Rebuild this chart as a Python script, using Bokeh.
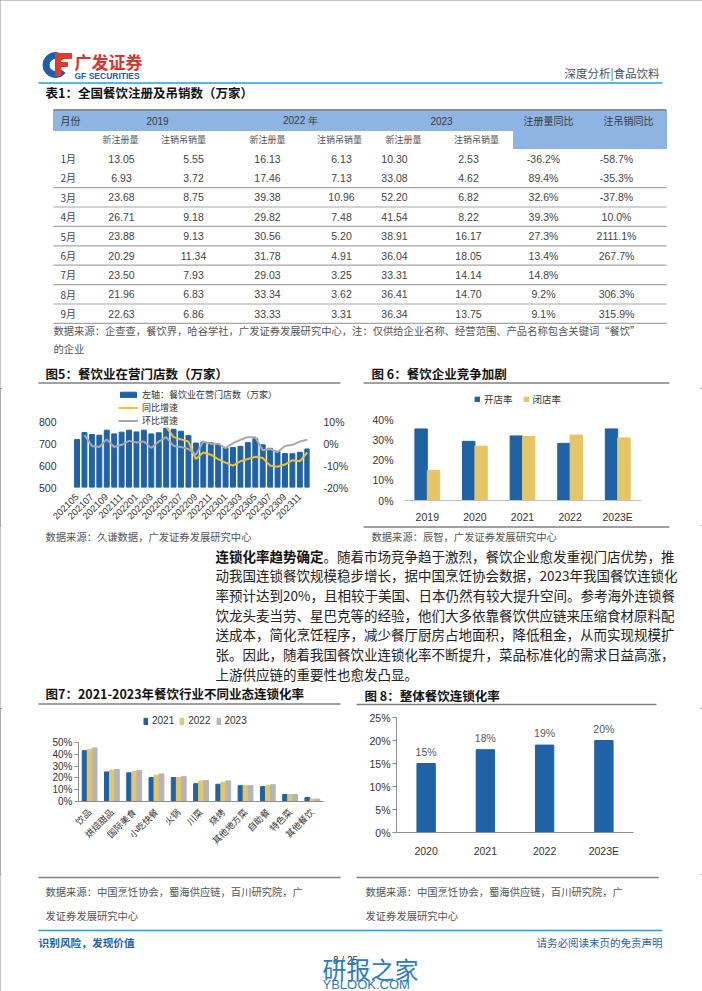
import math
from bokeh.plotting import figure
from bokeh.models import (Range1d, FactorRange, LinearAxis, FixedTicker, NumeralTickFormatter,
                          Legend, LegendItem, ColumnDataSource)
from bokeh.layouts import column, row
from bokeh.transform import dodge
from bokeh.core.properties import value
from bokeh.embed import file_html
from bokeh.resources import INLINE

CJK = "Noto Sans CJK SC"
LAT = "Liberation Sans"
BLUE = "#1f62a6"
YEL = "#e6c566"
GRY = "#b5b5b5"
LINE_YEL = "#f0c232"
LINE_GRY = "#a9a9a9"
TXT = "#333333"
SRC = "#555555"
RULE = "#808080"

# ---------------- data ----------------
table_months = ["1月", "2月", "3月", "4月", "5月", "6月", "7月", "8月", "9月"]
reg_2019 = [13.05, 6.93, 23.68, 26.71, 23.88, 20.29, 23.50, 21.96, 22.63]
can_2019 = [5.55, 3.72, 8.75, 9.18, 9.13, 11.34, 7.93, 6.83, 6.86]
reg_2022 = [16.13, 17.46, 39.38, 29.82, 30.56, 31.78, 29.03, 33.34, 33.33]
can_2022 = [6.13, 7.13, 10.96, 7.48, 5.20, 4.91, 3.25, 3.62, 3.31]
reg_2023 = [10.30, 33.08, 52.20, 41.54, 38.91, 36.04, 33.31, 36.41, 36.34]
can_2023 = [2.53, 4.62, 6.82, 8.22, 16.17, 18.05, 14.14, 14.70, 13.75]
reg_yoy = ["-36.2%", "89.4%", "32.6%", "39.3%", "27.3%", "13.4%", "14.8%", "9.2%", "9.1%"]
can_yoy = ["-58.7%", "-35.3%", "-37.8%", "10.0%", "2111.1%", "267.7%", "", "306.3%", "315.9%"]
table_head1 = ["月份", "2019", "2022 年", "2023", "注册量同比", "注吊销同比"]
table_head2 = ["新注册量", "注销吊销量", "新注册量", "注销吊销量", "新注册量", "注销吊销量"]

months5 = ["202105", "202106", "202107", "202108", "202109", "202110", "202111", "202112",
           "202201", "202202", "202203", "202204", "202205", "202206", "202207", "202208",
           "202209", "202210", "202211", "202212", "202301", "202302", "202303", "202304",
           "202305", "202306", "202307", "202308", "202309", "202310", "202311", "202312"]
stores5 = [719, 751, 742, 739, 762, 745, 753, 762, 754, 762, 745, 750, 770, 766, 757, 738,
           703, 707, 704, 697, 680, 683, 688, 705, 723, 695, 679, 664, 655, 654, 661, 676]
nan = float("nan")
yoy5 = [nan, nan, nan, nan, nan, nan, nan, nan, nan, nan, nan, nan,
        0.077, 0.03, 0.02, 0.01, -0.07, -0.04, -0.05, -0.07, -0.086, -0.10, -0.08, -0.07,
        -0.06, -0.065, -0.10, -0.105, -0.095, -0.075, -0.08, -0.04]
mom5 = [nan, 0.04, -0.01, -0.015, 0.02, -0.015, -0.005, 0.013, 0.006, 0.01, -0.02, 0.01,
        0.03, -0.01, -0.015, -0.024, -0.05, 0.01, 0.0, 0.0, -0.02, 0.003, 0.018, 0.03,
        0.03, -0.03, -0.024, -0.038, -0.01, -0.005, 0.01, 0.018]

years6 = ["2019", "2020", "2021", "2022", "2023E"]
open6 = [0.357, 0.295, 0.322, 0.285, 0.357]
close6 = [0.149, 0.271, 0.319, 0.326, 0.312]

cats7 = ["饮品", "烘焙甜品", "国际美食", "小吃快餐", "火锅", "川菜", "烧烤", "其他地方菜",
         "自助餐", "特色菜", "其他餐饮"]
chain7_2021 = [0.43, 0.25, 0.243, 0.203, 0.203, 0.151, 0.146, 0.134, 0.126, 0.06, 0.034]
chain7_2022 = [0.443, 0.266, 0.254, 0.223, 0.203, 0.174, 0.163, 0.134, 0.134, 0.06, 0.02]
chain7_2023 = [0.454, 0.271, 0.263, 0.234, 0.211, 0.177, 0.174, 0.134, 0.143, 0.06, 0.02]

years8 = ["2020", "2021", "2022", "2023E"]
chain8 = [0.15, 0.18, 0.19, 0.20]
chain8_labels = ["15%", "18%", "19%", "20%"]

para_bold = "连锁化率趋势确定"
para_lines = [
    "。随着市场竞争趋于激烈，餐饮企业愈发重视门店优势，推",
    "动我国连锁餐饮规模稳步增长，据中国烹饪协会数据，2023年我国餐饮连锁化",
    "率预计达到20%，且相较于美国、日本仍然有较大提升空间。参考海外连锁餐",
    "饮龙头麦当劳、星巴克等的经验，他们大多依靠餐饮供应链来压缩食材原料配",
    "送成本，简化烹饪程序，减少餐厅厨房占地面积，降低租金，从而实现规模扩",
    "张。因此，随着我国餐饮业连锁化率不断提升，菜品标准化的需求日益高涨，",
    "上游供应链的重要性也愈发凸显。",
]


# ---------------- helpers ----------------
def band(y0, y1, x0=0, x1=702):
    f = figure(width=x1 - x0, height=y1 - y0, x_range=Range1d(x0, x1), y_range=Range1d(y1, y0),
               x_axis_type=None, y_axis_type=None, output_backend="svg", toolbar_location=None,
               min_border=0, outline_line_color=None)
    return f


def txt(f, x, y, s, size="10px", color=TXT, font=CJK, bold=False, align="left"):
    f.text(x=[x], y=[y], text=[s], text_font=value(font), text_font_size=size,
           text_color=color, text_font_style="bold" if bold else "normal",
           text_align=align, text_baseline="middle")


def hline(f, x0, x1, y, color=RULE, width=1.5):
    f.segment(x0=[x0], y0=[y], x1=[x1], y1=[y], line_color=color, line_width=width)


def chart(width, height, xr, yr, l, r, t, b):
    p = figure(width=width, height=height, x_range=xr, y_range=yr, output_backend="svg",
               toolbar_location=None, min_border_left=l, min_border_right=r,
               min_border_top=t, min_border_bottom=b, outline_line_color=None,
               frame_align=False)
    p.grid.visible = False
    for ax in p.axis:
        ax.minor_tick_line_color = None
        ax.major_label_text_font = LAT
        ax.major_label_text_color = TXT
    return p


def legend(items, loc, orient, spacing, gw, gh, font, size):
    return Legend(items=[LegendItem(label=l, renderers=[r]) for l, r in items],
                  location=loc, orientation=orient, padding=0, margin=0, spacing=spacing,
                  glyph_width=gw, glyph_height=gh, label_height=8, label_standoff=4,
                  label_text_font=font, label_text_font_size=size, label_text_color=TXT,
                  border_line_color=None, background_fill_alpha=0)


# ---------------- band 1: header, table, fig titles ----------------
b1 = band(0, 388)
b1.annular_wedge(x=[55], y=[64.5], inner_radius=6.5, outer_radius=12.5,
                 start_angle=math.radians(40), end_angle=math.radians(320), color="#1d5fae")
b1.quad(left=[55], right=[60], top=[54], bottom=[75], color="#e23a2e")
b1.quad(left=[55], right=[71], top=[53], bottom=[58], color="#e23a2e")
b1.quad(left=[55], right=[67], top=[62], bottom=[66], color="#e23a2e")
txt(b1, 74, 61, "广发证券", size="17px", color="#d8342b", bold=True)
txt(b1, 74, 75.5, "GF SECURITIES", size="8.5px", color="#1d5fae", font=LAT, bold=True)
txt(b1, 659, 72, "深度分析|食品饮料", size="11.5px", color="#44546a", align="right")
hline(b1, 38, 662, 82.5, color="#1ba1e2", width=1.6)
txt(b1, 45, 92, "表1：全国餐饮注册及吊销数（万家）", size="12.5px", color="#111111", bold=True)

b1.quad(left=[53], right=[666], top=[110], bottom=[130], color="#8db4e3")
b1.quad(left=[513], right=[666], top=[130], bottom=[148], color="#8db4e3")
hline(b1, 53, 666, 109.5, color="#8c8c8c", width=2)
h1x = [157, 300, 441, 548, 628]
txt(b1, 60, 120, table_head1[0], size="10px", color="#3a3a3a")
for xx, s in zip(h1x, table_head1[1:]):
    f = LAT if s[0].isdigit() else CJK
    txt(b1, xx, 120, s, size="10px", color="#3a3a3a", font=f, align="center")
for xx, s in zip([120, 183, 267, 339, 403, 476], table_head2):
    txt(b1, xx, 139, s, size="9px", color="#555555", align="center")
colx = [121, 193, 267, 341, 394, 468, 543, 616]
for i, m in enumerate(table_months):
    yy = 158 + i * 19.4
    txt(b1, 60, yy, m, size="10px", color="#444444")
    vals = [reg_2019[i], can_2019[i], reg_2022[i], can_2022[i], reg_2023[i], can_2023[i]]
    cells = [f"{v:.2f}" for v in vals] + [reg_yoy[i], can_yoy[i]]
    for xx, s in zip(colx, cells):
        txt(b1, xx, yy, s, size="10.5px", color="#444444", font=LAT, align="center")
    if i >= 1:
        hline(b1, 53, 666, yy + 9.7, color="#a6a6a6", width=1.2)
txt(b1, 53, 330, "数据来源：企查查，餐饮界，哈谷学社，广发证券发展研究中心，注：仅供给企业名称、经营范围、产品名称包含关键词“餐饮”",
    size="10.3px", color=SRC)
txt(b1, 53, 348, "的企业", size="10.3px", color=SRC)

txt(b1, 45, 373, "图5：餐饮业在营门店数（万家）", size="12.5px", color="#111111", bold=True)
txt(b1, 371, 373, "图 6：餐饮企业竞争加剧", size="12.5px", color="#111111", bold=True)
hline(b1, 38, 340, 382.5)
hline(b1, 363, 669, 382.5)

# ---------------- band 2: fig 5 and fig 6 (y 388 -> 525) ----------------
idx5 = list(range(len(months5)))
src5 = ColumnDataSource(dict(x=idx5, stores=stores5, yoy=yoy5, mom=mom5))
# frame: x 70->315, y 389->489 (800 at 422, 500 at 489; top extended for the legend)
p5 = chart(351, 137, Range1d(-0.88, 31.3), Range1d(500, 947.8), 70, 36, 1, 36)
p5.extra_y_ranges = {"r": Range1d(-0.2, 0.2478)}
r_bar = p5.vbar(x="x", top="stores", bottom=500, width=0.66, color=BLUE, source=src5)
r_yoy = p5.line(x="x", y="yoy", y_range_name="r", line_color=LINE_YEL, line_width=2, source=src5)
r_mom = p5.line(x="x", y="mom", y_range_name="r", line_color=LINE_GRY, line_width=2, source=src5)
rax = LinearAxis(y_range_name="r", ticker=FixedTicker(ticks=[-0.2, -0.1, 0.0, 0.1]),
                 formatter=NumeralTickFormatter(format="0%"))
p5.add_layout(rax, "right")
for ax in p5.yaxis:
    ax.axis_line_color = None
    ax.major_tick_line_color = None
    ax.minor_tick_line_color = None
    ax.major_label_text_font = LAT
    ax.major_label_text_font_size = "10.5px"
    ax.major_label_text_color = TXT
    ax.major_label_standoff = 8
p5.yaxis[0].ticker = FixedTicker(ticks=[500, 600, 700, 800])
p5.xaxis.ticker = FixedTicker(ticks=idx5[::2])
p5.xaxis.major_label_overrides = {i: months5[i] for i in idx5[::2]}
p5.xaxis.major_label_orientation = math.pi / 4
p5.xaxis.axis_line_color = None
p5.xaxis.major_tick_line_color = None
p5.xaxis.major_label_text_font_size = "9.5px"
p5.xaxis.major_label_standoff = 2
# legend location = its bottom-left corner, measured from the frame's bottom-left
p5.add_layout(legend([("左轴：餐饮业在营门店数（万家）", r_bar), ("同比增速", r_yoy), ("环比增速", r_mom)],
                     (48, 60), "vertical", 0, 20, 7, CJK, "9px"))

src6 = ColumnDataSource(dict(x=years6, open=open6, close=close6))
# frame: x 403->641, y 389->508 (40% at 422)
p6 = chart(351, 137, FactorRange(*years6), Range1d(0, 0.5535), 52, 61, 1, 17)
r_open = p6.vbar(x=dodge("x", -0.13, range=p6.x_range), top="open", width=0.26, color=BLUE, source=src6)
r_close = p6.vbar(x=dodge("x", 0.13, range=p6.x_range), top="close", width=0.26, color=YEL, source=src6)
p6.yaxis.ticker = FixedTicker(ticks=[0, 0.1, 0.2, 0.3, 0.4])
p6.yaxis.formatter = NumeralTickFormatter(format="0%")
p6.yaxis.axis_line_color = None
p6.yaxis.major_tick_line_color = None
p6.yaxis.major_label_standoff = 4
p6.yaxis.major_label_text_font_size = "10.5px"
p6.xaxis.axis_line_color = "#bfbfbf"
p6.xaxis.major_tick_line_color = None
p6.xaxis.major_label_standoff = 4
p6.xaxis.major_label_text_font_size = "10.5px"
p6.add_layout(legend([("开店率", r_open), ("闭店率", r_close)],
                     (71, 94), "horizontal", 10, 6, 6, CJK, "9.5px"))

# ---------------- band 3: sources, paragraph, fig titles (y 525 -> 708) ----------------
b3 = band(525, 708)
hline(b3, 363, 669, 526.5)
txt(b3, 45, 535.5, "数据来源：久谦数据，广发证券发展研究中心", size="10.3px", color=SRC)
txt(b3, 371, 535.5, "数据来源：辰智，广发证券发展研究中心", size="10.3px", color=SRC)
txt(b3, 215, 555, para_bold, size="13.5px", color="#111111", bold=True)
for i, line in enumerate(para_lines):
    x0 = 215 + (len(para_bold) * 13.5 if i == 0 else 0)
    txt(b3, x0, 555 + i * 19.7, line, size="13.5px", color="#222222")
txt(b3, 45, 693, "图7：2021-2023年餐饮行业不同业态连锁化率", size="12.5px", color="#111111", bold=True)
txt(b3, 364, 695, "图 8：整体餐饮连锁化率", size="12.5px", color="#111111", bold=True)
hline(b3, 38, 340, 703.5)
hline(b3, 356, 656, 704)

# ---------------- band 4: fig 7 and fig 8 (y 708 -> 874) ----------------
src7 = ColumnDataSource(dict(x=cats7, a=chain7_2021, b=chain7_2022, c=chain7_2023))
# frame: x 78->323, y 711->801 (50% at 742; top extended for the legend)
p7 = chart(351, 166, FactorRange(*cats7), Range1d(0, 0.7627), 78, 28, 3, 73)
r71 = p7.vbar(x=dodge("x", -0.225, range=p7.x_range), top="a", width=0.215, color=BLUE, source=src7)
r72 = p7.vbar(x=dodge("x", 0.0, range=p7.x_range), top="b", width=0.215, color=YEL, source=src7)
r73 = p7.vbar(x=dodge("x", 0.225, range=p7.x_range), top="c", width=0.215, color=GRY, source=src7)
p7.yaxis.ticker = FixedTicker(ticks=[0, 0.1, 0.2, 0.3, 0.4, 0.5])
p7.yaxis.bounds = (0, 0.5)
p7.yaxis.formatter = NumeralTickFormatter(format="0%")
p7.yaxis.axis_line_color = "#8c8c8c"
p7.yaxis.major_tick_line_color = "#8c8c8c"
p7.yaxis.major_tick_out = 4
p7.yaxis.major_tick_in = 0
p7.yaxis.major_label_standoff = 2
p7.yaxis.major_label_text_font_size = "10px"
p7.xaxis.axis_line_color = "#8c8c8c"
p7.xaxis.major_tick_line_color = None
p7.xaxis.major_label_orientation = math.pi / 4
p7.xaxis.major_label_text_font = CJK
p7.xaxis.major_label_text_font_size = "9px"
p7.xaxis.major_label_standoff = 3
p7.add_layout(legend([("2021", r71), ("2022", r72), ("2023", r73)],
                     (65, 75), "horizontal", 5, 5, 8, LAT, "10px"))

src8 = ColumnDataSource(dict(x=years8, v=chain8, lab=chain8_labels))
# frame: x 396->633, y 717->832
p8 = chart(351, 166, FactorRange(*years8), Range1d(0, 0.25), 45, 69, 9, 42)
p8.vbar(x="x", top="v", width=0.31, color=BLUE, source=src8)
p8.text(x="x", y="v", text="lab", y_offset=-12, text_align="center", text_baseline="middle",
        text_font=value(LAT), text_font_size="10.5px", text_color="#595959", source=src8)
p8.yaxis.ticker = FixedTicker(ticks=[0, 0.05, 0.1, 0.15, 0.2, 0.25])
p8.yaxis.formatter = NumeralTickFormatter(format="0%")
p8.yaxis.axis_line_color = "#8c8c8c"
p8.yaxis.major_tick_line_color = "#8c8c8c"
p8.yaxis.major_tick_out = 4
p8.yaxis.major_tick_in = 0
p8.yaxis.major_label_standoff = 2
p8.yaxis.major_label_text_font_size = "10.5px"
p8.xaxis.axis_line_color = "#8c8c8c"
p8.xaxis.major_tick_line_color = None
p8.xaxis.major_label_standoff = 6
p8.xaxis.major_label_text_font_size = "10.5px"

# ---------------- band 5: sources and footer (y 874 -> 991) ----------------
b5 = band(874, 991)
hline(b5, 38, 340, 877)
hline(b5, 356, 658, 877)
txt(b5, 45, 891, "数据来源：中国烹饪协会，蜀海供应链，百川研究院，广", size="10.3px", color=SRC)
txt(b5, 45, 915, "发证券发展研究中心", size="10.3px", color=SRC)
txt(b5, 365, 891, "数据来源：中国烹饪协会，蜀海供应链，百川研究院，广", size="10.3px", color=SRC)
txt(b5, 365, 915, "发证券发展研究中心", size="10.3px", color=SRC)
hline(b5, 38, 662, 930, color="#1ba1e2", width=1.6)
txt(b5, 38, 942, "识别风险，发现价值", size="10.7px", color="#1f5fa8", bold=True)
txt(b5, 662, 942, "请务必阅读末页的免责声明", size="10.5px", color="#1f5fa8", align="right")
txt(b5, 345, 960, "8 / 25", size="10px", color="#333333", font=LAT, align="center")
txt(b5, 322, 968, "研报之家", size="24px", color="#2b7cc0")
txt(b5, 322, 984, "YBLOOK.COM", size="13px", color="#2b7cc0", font=LAT)

layout = column(b1, row(p5, p6), b3, row(p7, p8), b5,
                styles={"outline": "2px solid #8a8a8a", "outline-offset": "-2px"})
open("out.html", "w").write(file_html(layout, INLINE))
